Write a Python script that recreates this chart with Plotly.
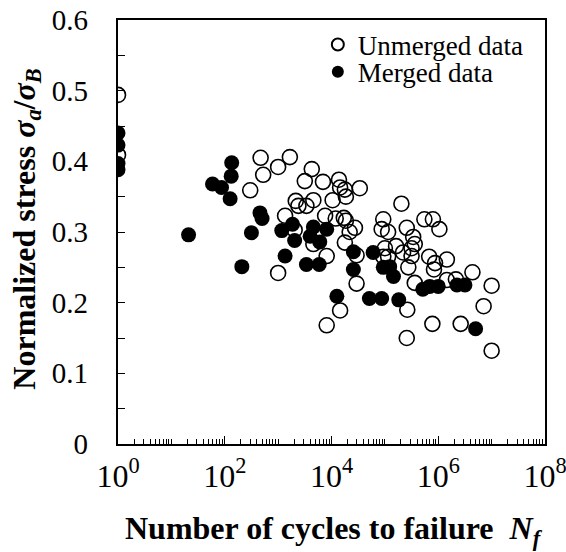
import plotly.graph_objects as go

# Unmerged data (open circles): cycles to failure, normalized stress
unmerged_N = [1, 1, 300, 470, 525, 1000, 1660, 4270, 3160, 6920, 13800, 14500,
              17800, 18600, 33900, 10500, 2140, 4570, 2400, 3390, 1350, 7590,
              12000, 17000, 18600, 27500, 21900, 93300, 87100, 17800, 8130, 1000,
              29500, 14500, 8130, 2040, 4570, 29500, 93300,
              204000, 115000, 257000, 550000, 794000, 1050000, 339000, 363000,
              316000, 100000, 162000, 219000, 316000, 115000, 275000, 676000,
              871000, 832000, 1450000, 363000, 1450000, 2140000, 4370000,
              10000000, 7080000, 263000, 776000, 2630000, 257000, 10000000]
unmerged_s = [0.494, 0.409, 0.359, 0.405, 0.381, 0.392, 0.406, 0.389, 0.372, 0.371,
              0.374, 0.363, 0.360, 0.350, 0.362, 0.345, 0.344, 0.345, 0.337, 0.337,
              0.323, 0.323, 0.319, 0.320, 0.316, 0.306, 0.300, 0.318, 0.304, 0.285,
              0.266, 0.242, 0.227, 0.189, 0.168, 0.303, 0.283, 0.267, 0.265,
              0.340, 0.300, 0.306, 0.318, 0.318, 0.304, 0.293, 0.283,
              0.277, 0.277, 0.280, 0.271, 0.266, 0.265, 0.250, 0.265,
              0.256, 0.247, 0.261, 0.228, 0.232, 0.233, 0.243,
              0.224, 0.195, 0.190, 0.170, 0.170, 0.150, 0.132]

# Merged data (filled circles)
merged_N = [1, 1, 1, 1, 21, 59, 87, 135, 132, 126, 209, 457, 501, 316, 1170, 1860,
            2040, 4570, 8130, 6030, 3980, 1350, 3390, 5890, 25700, 25700, 12600,
            51300, 87100, 60300, 93300, 123000, 145000, 182000, 513000, 692000,
            1000000, 2240000, 3160000, 5010000]
merged_s = [0.440, 0.423, 0.397, 0.388, 0.296, 0.368, 0.363, 0.398, 0.379, 0.347,
            0.251, 0.327, 0.319, 0.299, 0.302, 0.311, 0.288, 0.307, 0.304, 0.286,
            0.294, 0.266, 0.254, 0.254, 0.272, 0.247, 0.209, 0.206, 0.206, 0.271,
            0.250, 0.251, 0.237, 0.204, 0.219, 0.223, 0.223, 0.225, 0.225, 0.163]

x_tickvals = [1, 100, 1e4, 1e6, 1e8]
x_ticktext = ["10<sup>0</sup>", "10<sup>2</sup>", "10<sup>4</sup>",
              "10<sup>6</sup>", "10<sup>8</sup>"]
x_minor_decades = [10, 1e3, 1e5, 1e7]
x_minor_vals = sorted(x_minor_decades +
                      [m * 10 ** d for d in range(8) for m in range(2, 10)])
y_range = [0, 0.6]

FONT = "Liberation Serif, Times New Roman, serif"

fig = go.Figure()
fig.add_trace(go.Scatter(
    x=unmerged_N, y=unmerged_s, mode="markers", name="Unmerged data",
    legend="legend", yaxis="y",
    marker=dict(symbol="circle-open", size=15, color="black",
                line=dict(width=1.6, color="black")),
))
fig.add_trace(go.Scatter(
    x=merged_N, y=merged_s, mode="markers", name="Merged data",
    legend="legend2", yaxis="y2",
    marker=dict(symbol="circle", size=15, color="black",
                line=dict(width=0)),
))

legend_common = dict(xanchor="left", yanchor="middle",
                     bgcolor="rgba(0,0,0,0)", font=dict(size=27, family=FONT),
                     itemsizing="constant", borderwidth=0)

fig.update_layout(
    width=566, height=552,
    margin=dict(l=118, r=21, t=20, b=108, autoexpand=False),
    plot_bgcolor="white", paper_bgcolor="white",
    font=dict(family=FONT, color="black", size=26),
    showlegend=True,
    legend=dict(x=0.468, y=0.941, **legend_common),
    legend2=dict(x=0.468, y=0.877, **legend_common),
    xaxis=dict(
        type="log", range=[0, 8], automargin=False,
        tickmode="array", tickvals=x_tickvals, ticktext=x_ticktext,
        ticks="inside", ticklen=8, tickwidth=1.3, tickcolor="black",
        showline=True, linecolor="black", linewidth=2.2, mirror=True,
        showgrid=False, zeroline=False,
        tickfont=dict(size=32, family=FONT),
        ticklabelstandoff=2, ticklabeloverflow="allow",
        minor=dict(tickmode="array", tickvals=x_minor_vals,
                   ticks="inside", ticklen=5, tickwidth=1, tickcolor="black",
                   showgrid=False),
    ),
    # labelled axis: transparent outside ticks push the labels away from the line
    yaxis=dict(
        range=y_range, dtick=0.1, tick0=0, automargin=False,
        ticks="outside", ticklen=22, tickwidth=1, tickcolor="rgba(0,0,0,0)",
        showline=True, linecolor="black", linewidth=2.2, mirror=True,
        showgrid=False, zeroline=False,
        tickfont=dict(size=29, family=FONT),
    ),
    # overlay axis carrying the inside tick marks every 0.05
    yaxis2=dict(
        range=y_range, dtick=0.05, tick0=0, overlaying="y", side="left",
        automargin=False, ticks="inside", ticklen=7, tickwidth=1.3,
        tickcolor="black", showticklabels=False, showline=False,
        showgrid=False, zeroline=False,
    ),
    annotations=[
        dict(text="<b>Normalized stress <i>σ</i><sub><i>a</i></sub>/<i>σ</i><sub><i>B</i></sub></b>",
             xref="paper", yref="paper", x=-0.215, y=0.506,
             xanchor="center", yanchor="middle", textangle=-90,
             showarrow=False, font=dict(size=32, family=FONT)),
        dict(text="<b>Number of cycles to failure  <i>N</i><sub><i>f</i></sub></b>",
             xref="paper", yref="paper", x=0.505, y=-0.205,
             xanchor="center", yanchor="middle",
             showarrow=False, font=dict(size=32, family=FONT)),
    ],
)

fig.write_html("out.html")
